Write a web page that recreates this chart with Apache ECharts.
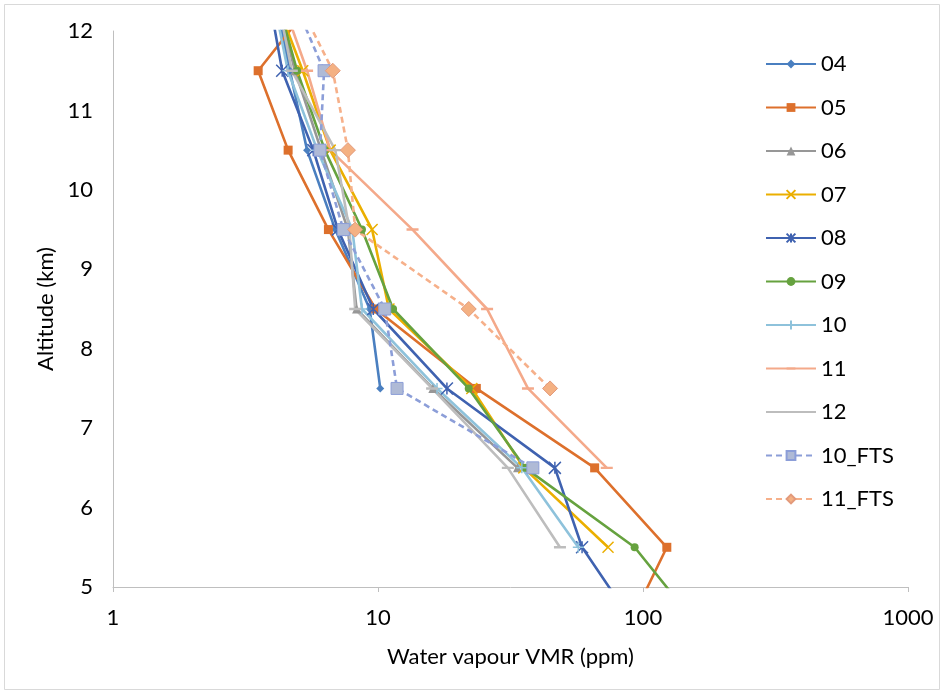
<!DOCTYPE html>
<html>
<head>
<meta charset="utf-8">
<script src="https://cdn.jsdelivr.net/npm/echarts@6/dist/echarts.min.js"></script>
<style>
html,body{margin:0;padding:0;background:#fff;}
#chart{width:945px;height:694px;}
</style>
</head>
<body>
<div id="chart"></div>
<script>
// Altitudes (km) of each profile level
const altitudes = [4.5, 5.5, 6.5, 7.5, 8.5, 9.5, 10.5, 11.5, 12.5];
// Water vapour VMR (ppm) per altitude level; null = no data
const s04    = [null, null, null, 10.2, 9.3, 6.9, 5.4, 4.65, 4.05];
const s05    = [88, 123, 65.7, 23.5, 9.8, 6.5, 4.58, 3.53, 6.1];
const s06    = [null, null, 33.6, 16.1, 8.3, 7.7, 6.1, 4.86, 4.08];
const s07    = [null, 73.8, 35.5, 22.6, 11.0, 9.5, 6.6, 5.2, 4.0];
const s08    = [94, 58.9, 46.5, 18.2, 9.6, 7.06, 5.7, 4.35, 3.84];
const s09    = [162, 93, 35.9, 22.0, 11.4, 8.7, 6.3, 4.95, 4.08];
const s10    = [null, 57, 34.9, 16.7, 8.7, 8.0, 5.9, 4.57, 3.98];
const s11    = [null, null, 73, 36.8, 25.8, 13.5, 6.6, 5.4, 4.23];
const s12    = [null, 48.6, 30.9, 16.0, 8.2, 7.8, 6.9, 4.73, 4.12];
const s10FTS = [null, null, 38.4, 11.8, 10.6, 7.4, 6.04, 6.26, 4.65];
const s11FTS = [null, null, null, 44.6, 22.0, 8.2, 7.7, 6.75, 4.77];
const seriesNames = ['04','05','06','07','08','09','10','11','12','10_FTS','11_FTS'];
const xTickLabels = ['1','10','100','1000'];

const toPairs = v => altitudes.map((a,i)=> v[i]==null ? null : [v[i], a]).filter(p=>p);

const P_X = 'path://M0,0L10,10M10,0L0,10';
const P_AST = 'path://M0,0L10,10M10,0L0,10M5,0L5,10';
const P_PLUS = 'path://M5,0L5,10M0,5L10,5';
// horizontal dash inside a square bounding box (degenerate corner points keep the box square)
const P_DASH = 'path://M0,0L0,0ZM0,4L10,4L10,6L0,6ZM10,10L10,10Z';

function mk(name, vals, color, symbol, size, extra) {
  const s = {
    name: name, type: 'line', data: toPairs(vals), clip: true,
    symbol: symbol, symbolSize: size, showSymbol: true,
    lineStyle: {color: color, width: 2.6},
    itemStyle: {color: color, borderColor: color, borderWidth: 0},
    emphasis: {disabled: true}, animation: false
  };
  if (extra) Object.assign(s, extra(s));
  return s;
}
const strokeSym = (c) => (s) => ({itemStyle: {color: c, borderColor: c, borderWidth: 1.5}});

const series = [
  mk(seriesNames[0], s04, '#4A7FC0', 'diamond', 8),
  mk(seriesNames[1], s05, '#DD702C', 'rect', 9),
  mk(seriesNames[2], s06, '#979797', 'triangle', 9),
  mk(seriesNames[3], s07, '#EBAF00', P_X, 11, strokeSym('#EBAF00')),
  mk(seriesNames[4], s08, '#3F62B0', P_AST, 12, strokeSym('#3F62B0')),
  mk(seriesNames[5], s09, '#66A23F', 'circle', 8),
  mk(seriesNames[6], s10, '#8EC2DB', P_PLUS, 11, strokeSym('#8EC2DB')),
  mk(seriesNames[7], s11, '#F4A98A', P_DASH, 12),
  mk(seriesNames[8], s12, '#BDBDBD', P_DASH, 12),
  mk(seriesNames[9], s10FTS, '#8C9ED8', 'rect', 12, () => ({
    lineStyle: {color:'#8C9ED8', width: 2.6, type: [6,4]},
    itemStyle: {color:'#AFBAD6', borderColor:'#8C9ED8', borderWidth: 1}
  })),
  mk(seriesNames[10], s11FTS, '#F6B08A', 'diamond', 15, () => ({
    lineStyle: {color:'#F6B08A', width: 2.6, type: [6,4]},
    itemStyle: {color:'#F4B183', borderColor:'#E39A7B', borderWidth: 1}
  }))
];

const font = 'Lato, "Open Sans", sans-serif';
const chart = echarts.init(document.getElementById('chart'), null, {renderer: 'canvas'});
chart.setOption({
  backgroundColor: '#fff',
  animation: false,
  textStyle: {fontFamily: font},
  graphic: [{
    type: 'rect', shape: {x: 4.5, y: 4.5, width: 935, height: 685},
    style: {fill: 'none', stroke: '#D9D9D9', lineWidth: 1}, silent: true, z: -1
  }],
  grid: {left: 113, right: 37, top: 31, bottom: 107, containLabel: false},
  legend: {
    orient: 'vertical', left: 760, top: 48,
    itemWidth: 50, itemHeight: 11, itemGap: 21.5,
    textStyle: {fontFamily: font, fontSize: 22, color: '#000'},
    data: seriesNames
  },
  xAxis: {
    type: 'log', logBase: 10, min: 1, max: 1000,
    name: 'Water vapour VMR (ppm)', nameLocation: 'middle', nameGap: 59,
    nameTextStyle: {fontFamily: font, fontSize: 22, color: '#000'},
    axisLine: {show: true, lineStyle: {color: '#BFBFBF', width: 1}},
    axisTick: {show: true, length: 5, lineStyle: {color: '#BFBFBF'}},
    axisLabel: {fontFamily: font, fontSize: 22, color: '#000', margin: 20,
      formatter: v => xTickLabels[Math.round(Math.log10(v))]},
    splitLine: {show: false}, minorTick: {show: false}
  },
  yAxis: {
    type: 'value', min: 5, max: 12, interval: 1,
    name: 'Altitude (km)', nameLocation: 'middle', nameGap: 54,
    nameTextStyle: {fontFamily: font, fontSize: 22, color: '#000'},
    axisLine: {show: true, lineStyle: {color: '#BFBFBF', width: 1}},
    axisTick: {show: false},
    axisLabel: {fontFamily: font, fontSize: 22, color: '#000', margin: 20},
    splitLine: {show: false}
  },
  series: series
});
</script>
</body>
</html>
